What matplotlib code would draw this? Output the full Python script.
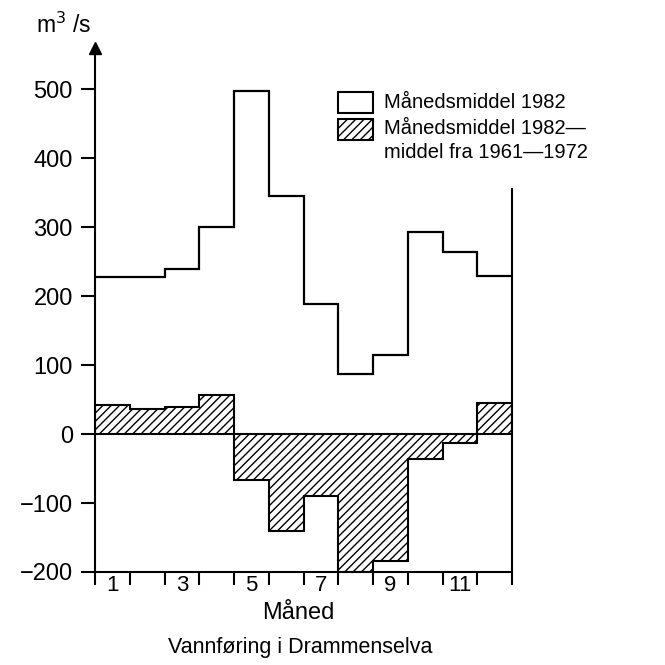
import numpy as np
import matplotlib
matplotlib.use("Agg")
import matplotlib.pyplot as plt
from matplotlib.patches import Rectangle

plt.rcParams['font.family'] = ['Liberation Sans', 'DejaVu Sans']
plt.rcParams['hatch.linewidth'] = 1.0

# Data
months = list(range(1, 13))
mean_1982 = [228, 228, 239, 300, 497, 345, 188, 87, 115, 293, 264, 230]
diff_1982 = [42, 36, 40, 56, -67, -141, -90, -200, -184, -36, -13, 45]
yticks = [-200, -100, 0, 100, 200, 300, 400, 500]
xlabels = ["1", "3", "5", "7", "9", "11"]
legend_labels = ["Månedsmiddel 1982", "Månedsmiddel 1982—\nmiddel fra 1961—1972"]

W = H = 665
fig = plt.figure(figsize=(6.65, 6.65), dpi=100)
ax = fig.add_axes([95 / W, 1 - 572 / H, 417 / W, 524 / H])
ax.set_xlim(0, 12)
ax.set_ylim(-200, 560)

edges = np.arange(len(months) + 1)
ax.stairs(diff_1982, edges, baseline=0, fill=True, facecolor='white',
          edgecolor='black', hatch='////', linewidth=1.4, zorder=2)
ax.stairs(diff_1982, edges, baseline=0, fill=False, color='black',
          linewidth=1.5, zorder=3)
ax.axhline(0, color='black', linewidth=1.5, zorder=3)
ax.stairs(mean_1982, edges, baseline=None, color='black', linewidth=1.6, zorder=3)

# Spines
for s in ['left', 'bottom', 'right']:
    ax.spines[s].set_linewidth(1.5)
ax.spines['top'].set_visible(False)
ax.spines['right'].set_bounds(-200, 355)
ax.plot(0, 1, marker='^', color='black', markersize=9,
        transform=ax.get_xaxis_transform(), clip_on=False)

ax.set_yticks(yticks)
ax.set_yticklabels([str(v).replace('-', '\u2212') for v in yticks])
ax.tick_params(axis='y', direction='out', length=10, width=1.5, pad=6, labelsize=17)

ax.set_xticks(edges)
ax.set_xticklabels([])
ax.tick_params(axis='x', which='major', direction='out', length=9, width=1.5)
ax.set_xticks(np.arange(0.5, 12, 2), minor=True)
ax.set_xticklabels(xlabels, minor=True)
ax.tick_params(axis='x', which='minor', length=0, pad=2, labelsize=16)

# Legend (manual)
fig.patches.append(Rectangle((338 / W, 1 - 113 / H), 35 / W, 21 / H,
                             transform=fig.transFigure, facecolor='white',
                             edgecolor='black', linewidth=1.5))
fig.patches.append(Rectangle((338 / W, 1 - 140 / H), 35 / W, 21 / H,
                             transform=fig.transFigure, facecolor='white',
                             edgecolor='black', linewidth=1.5, hatch='////'))
fig.text(384 / W, 1 - 102 / H, legend_labels[0], fontsize=14.5, va='center', ha='left')
fig.text(384 / W, 1 - 119 / H, legend_labels[1], fontsize=14.5, va='top', ha='left',
         linespacing=1.3)

# Labels
fig.text(36 / W, 1 - 25 / H, "m$^3$ /s", fontsize=16.5, va='center', ha='left')
fig.text(298 / W, 1 - 613 / H, "Måned", fontsize=17, va='center', ha='center')
fig.text(300 / W, 1 - 648 / H, "Vannføring i Drammenselva", fontsize=15.5,
         va='center', ha='center')

fig.savefig("out.png", dpi=100)
